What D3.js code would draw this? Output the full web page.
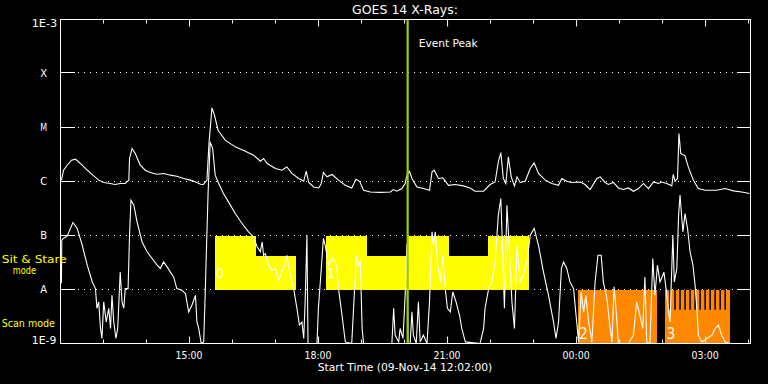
<!DOCTYPE html>
<html><head><meta charset="utf-8">
<script src="https://cdn.jsdelivr.net/npm/d3@7"></script>
<style>html,body{margin:0;padding:0;background:#000;}svg{display:block;}</style>
</head><body>
<svg id="c" width="768" height="384"></svg>
<script>
// ---- data (times in minutes after 09-Nov-2014 12:00 UTC, flux in W/m^2) ----
const fluxTicks  = [1e-9, 1e-8, 1e-7, 1e-6, 1e-5, 1e-4, 1e-3];
const fluxLabels = ['1E-9', 'A', 'B', 'C', 'M', 'X', '1E-3'];
const majorTickLabels = ['15:00', '18:00', '21:00', '00:00', '03:00'];
const majorTickMin = [180, 360, 540, 720, 900];
const eventPeakMin = 485;

const longMin = [2,5,10,16,21.5,28,38,47,54,61,70,77,84,91,96,97,100.5,105,112,119,126,135,145,154,163,172.5,182,191,196,200,205,208,212,215.5,220.5,230.5,244.5,258.5,270,279.5,284,289,300.5,309.5,316.5,323.5,333,340,343.5,347,354,361,364.5,367.5,372.5,379.5,388.5,398,407,413,418,423.5,433,447,461,465,470,477,481.5,484,487.5,491,498,507,515.5,519,522,528,534,542,551,563,572,579,591,600,607,611.5,615,618.5,622,625.5,629.5,634,637.5,642,649,656,661.5,667.5,677,686,695.5,700,707,714,726,732.5,739.5,749,753.5,760.5,765,772,779,786,793,800,807,814,821,828,835,839.5,846.5,853.5,855.5,858,861.5,863.5,866,872,876.5,883.5,890.5,900,916,928,939.5,951,962];
const longFlux = [1.06e-6,1.62e-6,2.0e-6,2.48e-6,2.59e-6,2.18e-6,1.62e-6,1.27e-6,1.06e-6,9.6e-7,9.2e-7,8.8e-7,9.2e-7,9.2e-7,1.06e-6,2.67e-6,4.08e-6,3.30e-6,2.0e-6,1.62e-6,1.47e-6,1.36e-6,1.41e-6,1.31e-6,1.25e-6,1.14e-6,1.06e-6,9.6e-7,8.9e-7,8.8e-7,1.06e-6,5.41e-6,2.31e-5,1.69e-5,8.9e-6,5.82e-6,4.38e-6,3.64e-6,3.07e-6,2.38e-6,2.67e-6,2.15e-6,1.74e-6,1.62e-6,1.86e-6,1.41e-6,1.14e-6,1.01e-6,1.55e-6,9.6e-7,7.9e-7,7.6e-7,9.2e-7,1.47e-6,1.22e-6,1.35e-6,1.06e-6,8.5e-7,7.6e-7,1.10e-6,1.01e-6,6.9e-7,6.4e-7,6.3e-7,6.4e-7,7.1e-7,6.6e-7,7.4e-7,9.2e-7,1.31e-6,1.55e-6,1.14e-6,7.9e-7,7.4e-7,6.9e-7,1.51e-6,1.62e-6,1.14e-6,1.17e-6,8.5e-7,8.8e-7,8.3e-7,7.6e-7,6.6e-7,6.6e-7,8.8e-7,9.8e-7,2.31e-6,3.44e-6,1.14e-6,9.2e-7,2.86e-6,1.22e-6,8.3e-7,1.22e-6,9.6e-7,1.01e-6,1.74e-6,2.21e-6,1.41e-6,1.06e-6,9.2e-7,8.5e-7,1.14e-6,1.01e-6,9.6e-7,9.8e-7,8.8e-7,7.1e-7,1.14e-6,1.22e-6,9.6e-7,8.8e-7,9.6e-7,7.6e-7,7.1e-7,7.6e-7,6.6e-7,7.4e-7,9.2e-7,7.4e-7,9.8e-7,9.2e-7,9.8e-7,9.2e-7,8.3e-7,1.35e-6,1.01e-6,1.14e-6,7.74e-6,3.30e-6,2.98e-6,1.86e-6,1.06e-6,7.4e-7,6.9e-7,6.9e-7,7.4e-7,6.7e-7,6.4e-7,6.0e-7];

const shortMin = [2,2.5,5,10,18,24,31,38,45,49.5,51.5,54,56.5,58.5,61,64.5,68,70.5,72.5,75,78,80.5,84,86.5,89,91,95,97,99,103,107.5,114.5,121.5,128.5,135.5,140,144.5,149.5,154,158.5,163,170,175,179.5,184,189,191,193.5,197,200.5,202.5,206.5,209.5,213,216.5,221.5,228,235,244.5,254,263,270,275,279.5,282,284,286.5,291,296,300.5,305,309.5,314,316.5,321,326,330.5,334,337.5,340,342,344.5,346,358.5,360.5,364.5,367.5,370,374.5,379.5,384,386.5,388.5,393.5,398,407,410.5,413.5,416.5,419,421.5,423.5,463,465.5,467.5,472.5,474.5,478.5,481.5,484,485.5,488.5,491,493,497,500,502.5,507,512,515.5,519,521,523.5,526.5,530.5,534,537.5,540.5,544.5,548,552.5,557.5,560.5,565.5,586,591,593,598,602.5,607,611.5,615,618,620,623.5,627,630.5,634,637.5,642,646.5,651.5,656,661.5,667.5,674.5,681.5,688.5,692,695.5,699.5,702.5,707,711.5,716.5,719.5,723.5,727,730.5,733.5,737.5,742,746.5,750.5,755,758,763,766.5,770,773,776,779,793,800,804.5,809,813,816,818.5,823,827,830,833.5,837,841,842.5,845.5,849,851,855,857,860.5,863,865,867.5,869,872,875.5,879,883,886,888.5,890.5,895.5,902.5,909.5,914,918.5,923,928,935];
const shortFlux = [1.31e-8,8.2e-8,8.9e-8,9.7e-8,1.74e-7,1.35e-7,6.6e-8,2.82e-8,1.38e-8,1.04e-8,4.5e-9,5.9e-9,1.9e-9,1.24e-9,5.9e-9,2.5e-9,4.5e-9,1.9e-9,7.8e-9,2.5e-9,1.24e-9,1.9e-9,2.1e-8,5.9e-9,4.5e-9,1.04e-8,1.04e-8,1.01e-7,4.5e-7,3.64e-7,1.79e-7,7.6e-8,5.0e-8,3.75e-8,2.82e-8,2.45e-8,3.24e-8,2.62e-8,2.1e-8,1.71e-8,1.04e-8,9.7e-9,8.4e-9,3.85e-9,5.1e-9,7.8e-9,2.5e-9,1.9e-9,1e-9,1.07e-9,7.8e-9,5.6e-7,5.4e-6,4.08e-6,1.31e-6,9.2e-7,6.0e-7,4.19e-7,2.55e-7,1.67e-7,1.17e-7,9.4e-8,6.2e-8,5.0e-8,7.6e-8,4.3e-8,4.6e-8,2.82e-8,2.28e-8,2.45e-8,1.49e-8,2.1e-8,3.0e-8,4.3e-8,1.84e-8,1.04e-8,4.5e-9,2.2e-9,2.5e-9,1.24e-9,5.9e-9,1.01e-7,1e-9,1e-9,4.5e-9,2.45e-8,8.8e-8,6.6e-8,2.82e-8,3.75e-8,3.24e-8,2.45e-8,1.04e-8,3.3e-9,1.07e-9,1e-9,7.8e-9,4.3e-8,2.82e-8,3.24e-8,1.9e-9,1e-9,1e-9,4.5e-9,1.43e-9,1.07e-9,1.9e-9,1.24e-9,7.8e-9,7.1e-8,1e-9,1e-9,3.85e-9,1.43e-9,1e-9,5.9e-9,1.07e-9,1.43e-9,1e-9,5.9e-9,1.17e-7,6.6e-8,1.17e-7,3.24e-8,1.38e-8,4.3e-8,1.04e-8,4.5e-9,3.85e-9,9.0e-9,5.9e-9,3.3e-9,1.9e-9,1.07e-9,1e-9,1.9e-9,4.5e-9,1.04e-8,1.38e-8,3.24e-8,2.38e-7,4.84e-7,3.24e-8,4.5e-9,3.64e-7,5.0e-8,5.9e-9,1.9e-9,6.6e-8,1.38e-8,1.84e-8,3.24e-8,1.01e-7,1.35e-7,6.6e-8,2.1e-8,7.8e-9,2.5e-9,1.24e-9,2.5e-9,2.45e-8,3.24e-8,2.45e-8,1.38e-8,1.04e-8,3.85e-9,1.07e-9,9.0e-9,3.85e-9,7.8e-9,2.5e-9,1.07e-9,1.38e-8,4.3e-8,4.3e-8,1.38e-8,6.8e-9,2.5e-9,1.07e-9,1.12e-8,3.85e-9,1e-9,1e-9,1.43e-9,5.9e-9,3.3e-9,1.9e-9,1.71e-8,1.07e-9,1e-9,3.75e-8,7.8e-9,2.82e-8,1.38e-8,1.84e-8,2.1e-8,1.04e-8,3.85e-9,2.5e-9,1.01e-7,1.38e-8,2.45e-8,2.38e-7,5.6e-7,2.07e-7,1.17e-7,2.55e-7,1.35e-7,5.0e-8,2.82e-8,1.2e-8,4.5e-9,1.43e-9,1.07e-9,1.24e-9,1.43e-9,1.9e-9,2.2e-9,1.43e-9,1.07e-9,1e-9];

// Sit & Stare mode intervals (yellow): start, end, top level
const stareStart = [216, 273, 371, 428, 485, 542, 597];
const stareEnd   = [273, 329, 428, 485, 542, 597, 654];
const stareTop   = [1e-7, 4.2e-8, 1e-7, 4.2e-8, 1e-7, 4.2e-8, 1e-7];
const stareLabels = ['0', '1'];
const stareLabelMin = [216, 371];
// Scan mode intervals (orange)
const scanStart = [722, 844];
const scanEnd   = [832.5, 935];
const scanLabels = ['2', '3'];
const scanGapMin = [851, 858, 865, 872, 879, 886, 893, 900, 907, 914, 921, 928];

// ---- drawing ----
const W = 768, H = 384;
const L = 60, R = 751, T = 19.5, B = 343.5;
const t0 = Date.UTC(2014, 10, 9, 12, 0);
const t1 = Date.UTC(2014, 10, 10, 4, 4);
const tm = m => new Date(t0 + m * 60000);
const x = d3.scaleUtc().domain([t0, t1]).range([L, R]);
const y = d3.scaleLog().domain([1e-9, 1e-3]).range([B, T]);
const FONT = "'DejaVu Sans', sans-serif";

const svg = d3.select('#c');
svg.append('rect').attr('width', W).attr('height', H).attr('fill', '#000');
svg.append('defs').append('clipPath').attr('id', 'clip')
  .append('rect').attr('x', L).attr('y', T - 0.5).attr('width', R - L).attr('height', B - T + 1);

// grid lines
const grid = svg.append('g');
fluxTicks.slice(1, -1).forEach(f => {
  const yy = Math.round(y(f)) - 0.5;
  grid.append('line').attr('x1', L).attr('x2', L + 15).attr('y1', yy).attr('y2', yy)
    .attr('stroke', '#fff').attr('stroke-width', 1);
  grid.append('line').attr('x1', R - 14).attr('x2', R).attr('y1', yy).attr('y2', yy)
    .attr('stroke', '#fff').attr('stroke-width', 1);
  grid.append('line').attr('x1', L + 18).attr('x2', R - 14).attr('y1', yy).attr('y2', yy)
    .attr('stroke', '#fff').attr('stroke-width', 1).attr('stroke-dasharray', '1 5');
});

// mode blocks
const blocks = svg.append('g').attr('clip-path', 'url(#clip)');
d3.range(stareStart.length).forEach(i => {
  const x0 = x(tm(stareStart[i])), x1 = x(tm(stareEnd[i]));
  blocks.append('rect').attr('x', x0).attr('width', x1 - x0 + 0.3)
    .attr('y', y(stareTop[i])).attr('height', y(1e-8) - y(stareTop[i]))
    .attr('fill', '#ffff00').attr('shape-rendering', 'crispEdges');
});
d3.range(scanStart.length).forEach(i => {
  const x0 = x(tm(scanStart[i])), x1 = x(tm(scanEnd[i]));
  blocks.append('rect').attr('x', x0).attr('width', x1 - x0)
    .attr('y', y(1e-8)).attr('height', B - y(1e-8))
    .attr('fill', '#ff8800').attr('shape-rendering', 'crispEdges');
});
scanGapMin.forEach(m => {
  blocks.append('line').attr('x1', x(tm(m))).attr('x2', x(tm(m)))
    .attr('y1', y(1e-8)).attr('y2', y(4.2e-9))
    .attr('stroke', '#000').attr('stroke-width', 1.5);
});
// block labels
stareLabels.forEach((s, i) => {
  svg.append('text').attr('x', x(tm(stareLabelMin[i])) + 1.3).attr('y', 277.7)
    .attr('fill', '#fff').attr('font-family', FONT).attr('font-size', 14)
    .attr('textLength', 7.5).attr('lengthAdjust', 'spacingAndGlyphs').text(s);
});
scanLabels.forEach((s, i) => {
  svg.append('text').attr('x', x(tm(scanStart[i])) + 1.8).attr('y', 339.3)
    .attr('fill', '#fff').attr('font-family', FONT).attr('font-size', 15)
    .attr('textLength', 8.5).attr('lengthAdjust', 'spacingAndGlyphs').text(s);
});

// curves
const line = d3.line()
  .x(d => x(tm(d[0])))
  .y(d => y(Math.max(d[1], 1e-9)));
const curves = svg.append('g').attr('clip-path', 'url(#clip)');
curves.append('path').datum(d3.zip(longMin, longFlux)).attr('d', line)
  .attr('fill', 'none').attr('stroke', '#fff').attr('stroke-width', 1.1);
curves.append('path').datum(d3.zip(shortMin, shortFlux)).attr('d', line)
  .attr('fill', 'none').attr('stroke', '#fff').attr('stroke-width', 1.1);

// event peak line
const xp = x(tm(eventPeakMin));
svg.append('line').attr('x1', xp).attr('x2', xp).attr('y1', T).attr('y2', B)
  .attr('stroke', '#9acd00').attr('stroke-width', 2.2);
svg.append('text').attr('x', 418.7).attr('y', 46.5).attr('fill', '#fff')
  .attr('font-family', FONT).attr('font-size', 10.5)
  .attr('textLength', 59).attr('lengthAdjust', 'spacingAndGlyphs').text('Event Peak');

// frame
svg.append('rect').attr('x', L + 0.5).attr('y', T).attr('width', R - L - 1).attr('height', B - T)
  .attr('fill', 'none').attr('stroke', '#fff').attr('stroke-width', 1);

// time ticks (hourly minor, 3-hourly major) via d3 axes
const hourTicks = x.ticks(d3.utcHour.every(1));
const majorSet = new Set(majorTickMin.map(m => +tm(m)));
const minorTicks = hourTicks.filter(d => !majorSet.has(+d));
const majorTicks = majorTickMin.map(tm);
function tickAxis(gen, vals, size, yPos) {
  const g = svg.append('g').attr('transform', `translate(0,${yPos})`)
    .call(gen(x).tickValues(vals).tickSize(size).tickFormat(''));
  g.select('.domain').remove();
  g.selectAll('line').attr('stroke', '#fff');
  return g;
}
tickAxis(d3.axisBottom, minorTicks, -4, B);
tickAxis(d3.axisBottom, majorTicks, -7, B);
tickAxis(d3.axisTop, minorTicks, -4, T);
tickAxis(d3.axisTop, majorTicks, -7, T);

majorTicks.forEach((d, i) => {
  svg.append('text').attr('x', x(d)).attr('y', 359).attr('text-anchor', 'middle')
    .attr('fill', '#fff').attr('font-family', FONT).attr('font-size', 10.5)
    .attr('textLength', 27).attr('lengthAdjust', 'spacingAndGlyphs').text(majorTickLabels[i]);
});

// y labels
fluxTicks.forEach((f, i) => {
  const lab = fluxLabels[i];
  const t = svg.append('text').attr('fill', '#fff').attr('font-family', FONT).attr('font-size', 10.5).text(lab);
  if (lab === '1E-3') {
    t.attr('x', 57.3).attr('y', y(f) + 7.3).attr('text-anchor', 'end')
      .attr('textLength', 25.6).attr('lengthAdjust', 'spacingAndGlyphs');
  } else if (lab === '1E-9') {
    t.attr('x', 56.3).attr('y', y(f)).attr('text-anchor', 'end')
      .attr('textLength', 24.5).attr('lengthAdjust', 'spacingAndGlyphs');
  } else {
    t.attr('x', 43.6).attr('y', y(f) + 3.9).attr('text-anchor', 'middle')
      .attr('textLength', 6.8).attr('lengthAdjust', 'spacingAndGlyphs');
  }
});

// title and axis title
svg.append('text').attr('x', 405).attr('y', 14).attr('text-anchor', 'middle')
  .attr('fill', '#fff').attr('font-family', FONT).attr('font-size', 12.5)
  .attr('textLength', 106).attr('lengthAdjust', 'spacingAndGlyphs').text('GOES 14 X-Rays:');
svg.append('text').attr('x', 405).attr('y', 370.7).attr('text-anchor', 'middle')
  .attr('fill', '#fff').attr('font-family', FONT).attr('font-size', 10.5)
  .attr('textLength', 174.6).attr('lengthAdjust', 'spacingAndGlyphs').text('Start Time (09-Nov-14 12:02:00)');

// mode labels
const yel = '#ffff00';
svg.append('text').attr('x', 1.7).attr('y', 262.6).attr('fill', yel).attr('font-family', FONT).attr('font-size', 11)
  .attr('textLength', 65).attr('lengthAdjust', 'spacingAndGlyphs').text('Sit & Stare');
svg.append('text').attr('x', 12.7).attr('y', 274.3).attr('fill', yel).attr('font-family', FONT).attr('font-size', 11)
  .attr('textLength', 23.3).attr('lengthAdjust', 'spacingAndGlyphs').text('mode');
svg.append('text').attr('x', 1.7).attr('y', 327.3).attr('fill', yel).attr('font-family', FONT).attr('font-size', 11)
  .attr('textLength', 53.3).attr('lengthAdjust', 'spacingAndGlyphs').text('Scan mode');
</script>
</body></html>
